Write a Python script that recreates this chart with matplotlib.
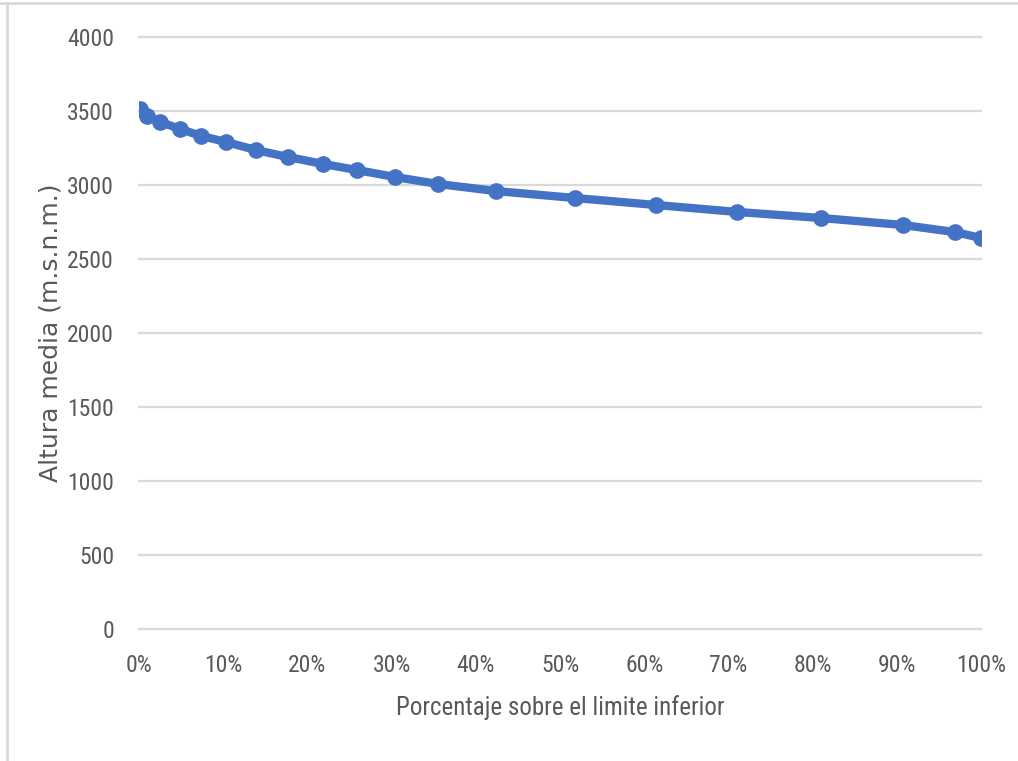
import matplotlib.pyplot as plt
from matplotlib import font_manager
from matplotlib.lines import Line2D
from matplotlib.ticker import PercentFormatter

# --------------------- Data ---------------------
porcentaje = [0.001, 0.010, 0.025, 0.049, 0.074, 0.103, 0.139, 0.177, 0.219,
              0.259, 0.304, 0.355, 0.424, 0.518, 0.614, 0.710, 0.810, 0.907,
              0.969, 1.000]
altura = [3515, 3465, 3426, 3378, 3331, 3291, 3236, 3189, 3142, 3101,
          3054, 3007, 2959, 2912, 2865, 2818, 2777, 2730, 2682, 2642]

y_ticks = [0, 500, 1000, 1500, 2000, 2500, 3000, 3500, 4000]
x_ticks = [i / 10 for i in range(11)]

GRAY_TEXT = "#595959"
GRID = "#d9d9d9"
BLUE = "#4472C4"

names = {f.name for f in font_manager.fontManager.ttflist}
narrow_fams = [n for n in ["Liberation Sans Narrow", "Arial Narrow", "Roboto Condensed",
                           "Open Sans Condensed"] if n in names]
NARROW = dict(family=(narrow_fams + ["DejaVu Sans"])[:2], stretch="condensed")

fig = plt.figure(figsize=(10.18, 7.61), dpi=100)
ax = fig.add_axes([139 / 1018, 1 - 629 / 761, (981 - 139) / 1018, (629 - 37) / 761])

ax.plot(porcentaje, altura, color=BLUE, lw=6, marker="o", ms=11,
        solid_capstyle="round", zorder=3)

ax.set_xlim(0, 1)
ax.set_ylim(0, 4000)
ax.set_yticks(y_ticks)
ax.set_xticks(x_ticks)
ax.xaxis.set_major_formatter(PercentFormatter(1.0, decimals=0))
ax.grid(axis="y", color=GRID, lw=1.6)
for g in ax.get_ygridlines():
    g.set_clip_on(False)
ax.set_axisbelow(True)
for s in ax.spines.values():
    s.set_visible(False)
ax.tick_params(length=0, colors=GRAY_TEXT, labelsize=17)
ax.tick_params(axis="x", pad=18)
ax.tick_params(axis="y", pad=18)
for lab in ax.get_xticklabels() + ax.get_yticklabels():
    lab.set_family(NARROW["family"])
    lab.set_stretch("condensed")

ax.set_xlabel("Porcentaje sobre el limite inferior", color=GRAY_TEXT,
              fontsize=18, labelpad=13, **NARROW)
ax.set_ylabel("Altura media (m.s.n.m.)", color=GRAY_TEXT, fontsize=18,
              labelpad=3)

# outer frame lines of the original screenshot
fig.add_artist(Line2D([0, 1], [1 - 3 / 761] * 2, color=GRID, lw=2,
                      transform=fig.transFigure))
fig.add_artist(Line2D([7 / 1018] * 2, [0, 1 - 3 / 761], color=GRID, lw=2,
                      transform=fig.transFigure))

fig.savefig("out.png", dpi=100)
